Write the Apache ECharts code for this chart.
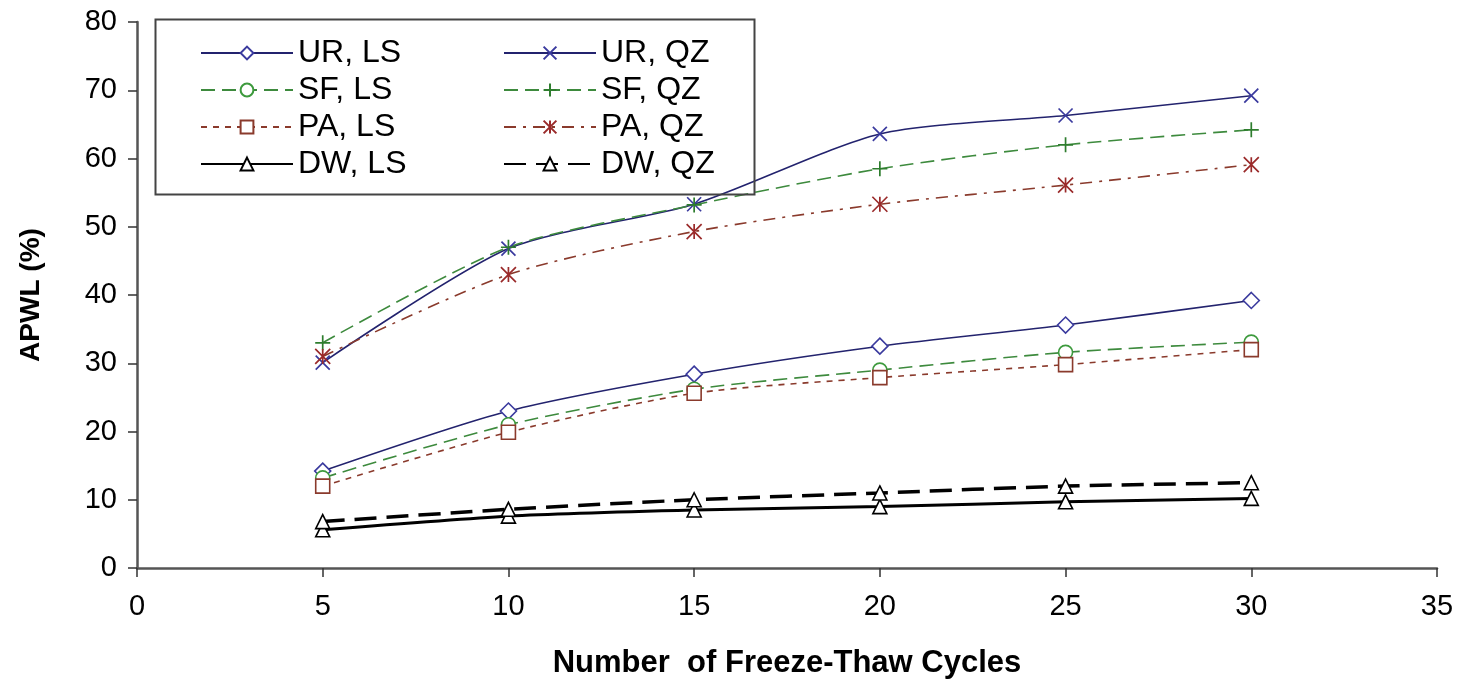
<!DOCTYPE html>
<html>
<head>
<meta charset="utf-8">
<script src="https://cdn.jsdelivr.net/npm/echarts@6/dist/echarts.min.js"></script>
<style>
html,body{margin:0;padding:0;background:#fff;}
#chart{width:1463px;height:681px;}
</style>
</head>
<body>
<div id="chart"></div>
<script>
// ---- data ----
const cycles = [5, 10, 15, 20, 25, 30];
const urLS = [14.2, 23.0, 28.4, 32.5, 35.6, 39.2];
const sfLS = [13.2, 21.0, 26.2, 29.0, 31.6, 33.1];
const paLS = [12.0, 19.9, 25.6, 27.9, 29.8, 32.0];
const dwLS = [5.6, 7.6, 8.5, 9.0, 9.7, 10.2];
const urQZ = [30.1, 46.8, 53.3, 63.6, 66.3, 69.2];
const sfQZ = [33.0, 47.0, 53.2, 58.5, 62.0, 64.2];
const paQZ = [31.0, 43.0, 49.3, 53.3, 56.1, 59.1];
const dwQZ = [6.8, 8.6, 10.0, 11.0, 12.0, 12.5];
const xTicks = [0, 5, 10, 15, 20, 25, 30, 35];
const yTicks = [0, 10, 20, 30, 40, 50, 60, 70, 80];

const pair = (ys) => cycles.map((x, i) => [x, ys[i]]);

const FONT = '"Liberation Sans", Arial, sans-serif';
const NAVY = '#23236e', GREEN = '#3d8a3d', BROWN = '#8a3a2c', BLACK = '#000';

const XSYM = 'path://M0,0L10,10M0,10L10,0';
const PLUS = 'path://M5,0L5,10M0,5L10,5';
const STAR = 'path://M5,0L5,10M0,0L10,10M0,10L10,0';

function mk(name, ys, color, mcolor, lineW, dash, symbol, size, hollow) {
  return {
    name, type: 'line', data: pair(ys), smooth: 0.25,
    symbol, symbolSize: size, showSymbol: true,
    lineStyle: { color, width: lineW, type: dash },
    itemStyle: hollow ? { color: '#fff', borderColor: mcolor, borderWidth: 1.6 }
                      : { color: 'none', borderColor: mcolor, borderWidth: 1.7 },
    emphasis: { disabled: true },
    z: 3
  };
}

const series = [
  mk('UR, LS', urLS, NAVY, '#3a3a9e', 1.6, 'solid', 'diamond', 16, true),
  mk('SF, LS', sfLS, GREEN, '#3d9a3d', 1.6, [14, 7], 'circle', 14, true),
  mk('PA, LS', paLS, BROWN, '#8a3a2c', 1.6, [6, 6], 'rect', 14, true),
  mk('DW, LS', dwLS, BLACK, '#000', 3, 'solid', 'triangle', 14, true),
  mk('UR, QZ', urQZ, NAVY, '#3a3a9e', 1.6, 'solid', XSYM, 14, false),
  mk('SF, QZ', sfQZ, GREEN, '#2e7d2e', 1.6, [14, 7], PLUS, 15, false),
  mk('PA, QZ', paQZ, BROWN, '#9a2a2a', 1.6, [12, 7, 3, 7], STAR, 15, false),
  mk('DW, QZ', dwQZ, BLACK, '#000', 3.5, [22, 10], 'triangle', 14, true)
];

const legendCommon = {
  orient: 'vertical', top: 32, itemWidth: 92, itemHeight: 16, itemGap: 5,
  textStyle: { fontFamily: FONT, fontSize: 32, color: '#000', padding: [0, 0, 0, 0] },
  inactiveColor: '#000', selectedMode: false
};

const chart = echarts.init(document.getElementById('chart'));
chart.setOption({
  animation: false,
  backgroundColor: '#fff',
  grid: { left: 137, right: 26, top: 22, bottom: 113, containLabel: false, outerBoundsMode: 'none' },
  xAxis: {
    type: 'value', min: xTicks[0], max: xTicks[xTicks.length - 1], interval: 5,
    name: 'Number  of Freeze-Thaw Cycles', nameLocation: 'middle', nameGap: 80,
    nameTextStyle: { fontFamily: FONT, fontSize: 31, fontWeight: 'bold', color: '#000' },
    axisLine: { lineStyle: { color: '#555', width: 2.5 } },
    axisTick: { show: true, length: 9, lineStyle: { color: '#333', width: 1.5 } },
    axisLabel: { fontFamily: FONT, fontSize: 29, color: '#000', margin: 24 },
    splitLine: { show: false }
  },
  yAxis: {
    type: 'value', min: yTicks[0], max: yTicks[yTicks.length - 1], interval: 10,
    name: 'APWL (%)', nameLocation: 'middle', nameGap: 92, nameRotate: 90,
    nameTextStyle: { fontFamily: FONT, fontSize: 28, fontWeight: 'bold', color: '#000' },
    axisLine: { show: true, lineStyle: { color: '#555', width: 2.5 } },
    axisTick: { show: true, length: 9, lineStyle: { color: '#333', width: 1.5 } },
    axisLabel: { fontFamily: FONT, fontSize: 29, color: '#000', margin: 20 },
    splitLine: { show: false }
  },
  legend: [
    Object.assign({}, legendCommon, { left: 195, data: ['UR, LS', 'SF, LS', 'PA, LS', 'DW, LS'] }),
    Object.assign({}, legendCommon, { left: 498, data: ['UR, QZ', 'SF, QZ', 'PA, QZ', 'DW, QZ'] })
  ],
  graphic: [{
    type: 'rect', left: 153, top: 17, silent: true, z: 10,
    shape: { width: 599, height: 175 },
    style: { fill: 'none', stroke: '#444', lineWidth: 2 }
  }],
  series
});
</script>
</body>
</html>
